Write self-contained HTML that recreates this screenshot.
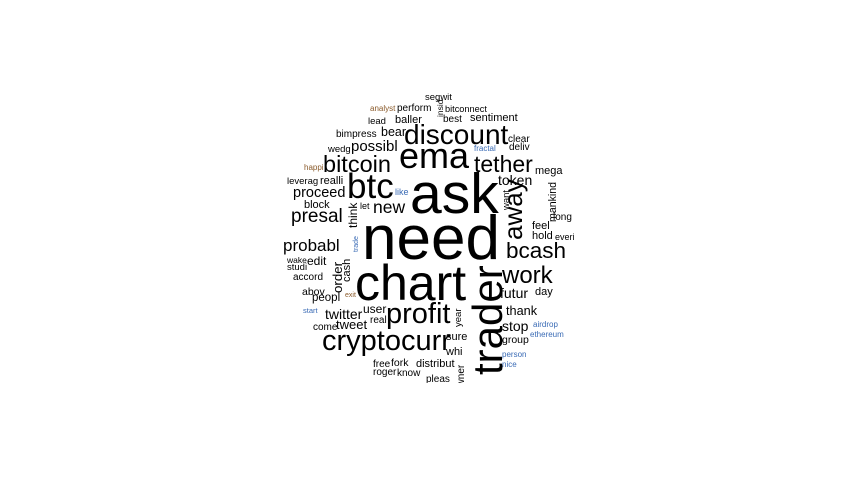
<!DOCTYPE html>
<html><head><meta charset="utf-8"><style>
html,body{margin:0;padding:0;background:#fff;}
svg{display:block;}
text{font-family:"Liberation Sans",Arial,sans-serif;}
</style></head><body>
<svg id="cloud" width="865" height="478" viewBox="0 0 865 478" xmlns="http://www.w3.org/2000/svg">
<defs><clipPath id="clip"><rect x="0" y="0" width="865" height="383"/></clipPath></defs>
<rect width="865" height="478" fill="#fff"/>
<g id="words" clip-path="url(#clip)"></g>
</svg>
<script>
const words = ["need","ask","chart","trader","ema","btc","discount","profit","cryptocurr","bitcoin","tether","work","bcash","away","presal","probabl","possibl","proceed","new","token","futur","twitter","stop","order","tweet","thank","think","edit","bear","user","peopl","realli","sentiment","block","baller","mega","feel","hold","day","sure","whi","distribut","fork","accord","abov","bimpress","perform","best","clear","deliv","leverag","mankind","long","group","cash","free","roger","know","come","real","year","studi","segwit","bitconnect","lead","wedg","want","everi","let","like","pleas","owner","insid","wake","happi","analyst","fractal","airdrop","ethereum","person","nice","start","exit","trade"];
const freqs = [62,57,50,42,36,35,28,29,29,23.5,23,24,22.5,26,19,17,15,14.5,17.5,14,14,14,14,13.3,13,12.7,12,12,12.5,12,11.5,11,11,11,11,11,11,11,11,11,11,11,10.5,10,10.5,10,10,10,10,10,9.5,10.6,10,10.5,11,10,10,10,10,10,9.5,9.5,9.5,9.2,9.5,9.5,9.5,9,9,9,10,10,8.5,8.5,8,8,8,8,8,8,8,7.5,7,7];
const colorGroup = ["k","k","k","k","k","k","k","k","k","k","k","k","k","k","k","k","k","k","k","k","k","k","k","k","k","k","k","k","k","k","k","k","k","k","k","k","k","k","k","k","k","k","k","k","k","k","k","k","k","k","k","k","k","k","k","k","k","k","k","k","k","k","k","k","k","k","k","k","k","b","k","k","k","k","r","r","b","b","b","b","b","b","r","b"];
const rotated = ["trader","away","want","think","mankind","insid","order","cash","trade","year","owner"];
// layout (x, baseline y)
const layout = {
need:[362,259],ask:[410,213],chart:[355,300],trader:[502,375],ema:[399,168],btc:[347,198],
discount:[404,144],profit:[386,323],cryptocurr:[322,350],bitcoin:[323,172],tether:[474,172],
work:[502,283],bcash:[506,258],away:[522,240],presal:[291,222],probabl:[283,251],possibl:[351,151],
proceed:[293,197],new:[373,213],token:[498,185],futur:[500,298],twitter:[325,319],stop:[502,331],
order:[342,293],tweet:[336,329],thank:[506,315],think:[357,228],edit:[307,265],bear:[381,136],
user:[363,313],peopl:[312,301],realli:[320,184],sentiment:[470,121],block:[304,208],baller:[395,123],
mega:[535,174],feel:[532,229],hold:[532,239],day:[535,295],sure:[446,340],whi:[446,355],
distribut:[416,367],fork:[391,366],accord:[293,280],abov:[302,295],bimpress:[336,137],perform:[397,111],
best:[443,122],clear:[508,142],deliv:[509,150],leverag:[287,184],mankind:[556,222],long:[553,220],
group:[502,343],cash:[350,282],free:[373,367],roger:[373,375],know:[397,376],come:[313,330],
real:[370,323],year:[461,327],studi:[287,270],segwit:[425,100],bitconnect:[445,112],lead:[368,124],
wedg:[328,152],want:[509,210],everi:[555,240],let:[360,209],like:[395,195],pleas:[426,382],
owner:[464,392],insid:[443,117],wake:[287,263],happi:[304,170],analyst:[370,111],fractal:[474,151],
airdrop:[533,327],ethereum:[530,337],person:[502,357],nice:[502,367],start:[303,313],exit:[345,297],trade:[358,252]
};
const palette = {k:"#000000", b:"#3a6bb5", r:"#8a5a2a"};
const g = document.getElementById('words');
words.forEach((w,i)=>{
  const p = layout[w];
  const t = document.createElementNS("http://www.w3.org/2000/svg","text");
  t.setAttribute('x', p[0]);
  t.setAttribute('y', p[1]);
  t.setAttribute('font-size', freqs[i]);
  t.setAttribute('fill', palette[colorGroup[i]]);
  if (rotated.includes(w)) t.setAttribute('transform', 'rotate(-90 '+p[0]+' '+p[1]+')');
  t.textContent = w;
  
  
  g.appendChild(t);
});
</script>
</body></html>
